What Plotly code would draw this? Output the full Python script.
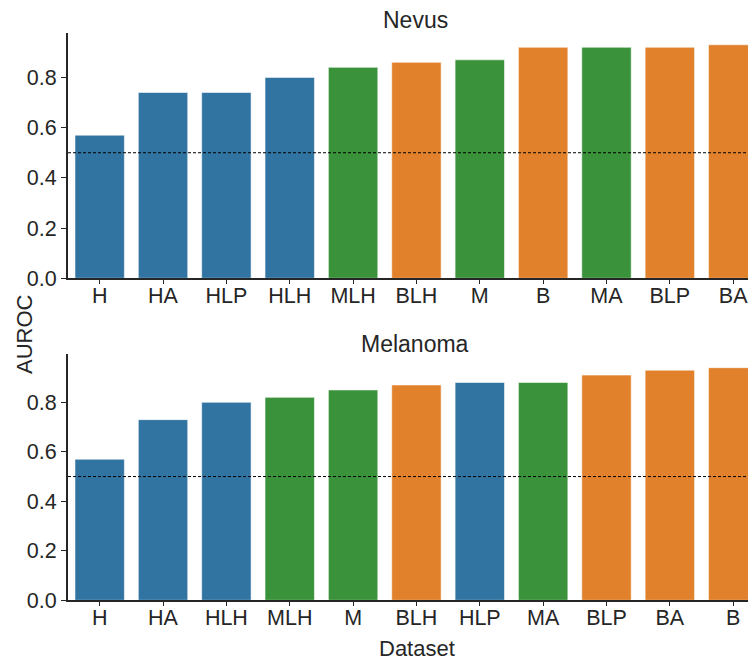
import plotly.graph_objects as go

nevus_datasets = ["H", "HA", "HLP", "HLH", "MLH", "BLH", "M", "B", "MA", "BLP", "BA"]
nevus_auroc = [0.57, 0.74, 0.74, 0.80, 0.84, 0.86, 0.87, 0.92, 0.92, 0.92, 0.93]

melanoma_datasets = ["H", "HA", "HLH", "MLH", "M", "BLH", "HLP", "MA", "BLP", "BA", "B"]
melanoma_auroc = [0.57, 0.73, 0.80, 0.82, 0.85, 0.87, 0.88, 0.88, 0.91, 0.93, 0.94]

y_ticks = [0.0, 0.2, 0.4, 0.6, 0.8]
chance_level = 0.5

group_colors = {"H": "#3274a1", "B": "#e1812c", "M": "#3a923a"}

FONT = "Liberation Sans, Arial, sans-serif"
TXT = "#262626"
OFF = 8            # page body margin
W, H = 756 - OFF, 662 - OFF
L = 68 - OFF
PW = W - L


def py(p):  # reference pixel y -> paper fraction
    return (H - (p - OFF)) / H


def px(p):  # reference pixel x -> paper fraction
    return (p - OFF - L) / PW


fig = go.Figure()

panels = [
    ("Nevus", nevus_datasets, nevus_auroc, "x", "y"),
    ("Melanoma", melanoma_datasets, melanoma_auroc, "x2", "y2"),
]
shapes = []
for name, cats, vals, xa, ya in panels:
    fig.add_trace(go.Bar(
        x=cats, y=vals, xaxis=xa, yaxis=ya, width=0.78,
        marker=dict(color=[group_colors[c[0]] for c in cats],
                    line=dict(color="rgba(255,255,255,0.55)", width=1)),
        showlegend=False, name=name,
    ))
    shapes.append(dict(type="line", xref=f"{xa} domain", yref=ya,
                       x0=0, x1=1, y0=chance_level, y1=chance_level,
                       line=dict(color="black", width=1, dash="3px,2px"),
                       layer="above"))

TICK = 21.5
common_x = dict(type="category", showline=True, linecolor=TXT, linewidth=2,
                ticks="outside", ticklen=4, tickcolor=TXT, tickwidth=1,
                showgrid=False, zeroline=False, automargin=False,
                ticklabelstandoff=-7,
                tickfont=dict(family=FONT, size=TICK, color=TXT))
common_y = dict(showline=True, linecolor=TXT, linewidth=2,
                ticks="outside", ticklen=5, tickcolor=TXT, tickwidth=1,
                showgrid=False, zeroline=False, automargin=False,
                tickvals=y_ticks, ticktext=[f"{v:.1f}" for v in y_ticks],
                tickfont=dict(family=FONT, size=TICK, color=TXT))

xr = [-0.5, 10.36]
fig.update_layout(
    width=W, height=H,
    margin=dict(l=L, r=0, t=0, b=0),
    plot_bgcolor="white", paper_bgcolor="white",
    xaxis=dict(common_x, domain=[0, 1], anchor="y", range=xr,
               categoryorder="array", categoryarray=nevus_datasets),
    yaxis=dict(common_y, domain=[py(278.3), py(32.7)], anchor="x", range=[0, 0.978]),
    xaxis2=dict(common_x, domain=[0, 1], anchor="y2", range=xr,
                categoryorder="array", categoryarray=melanoma_datasets),
    yaxis2=dict(common_y, domain=[py(600.3), py(354.3)], anchor="x2", range=[0, 0.994]),
    shapes=shapes,
    annotations=[
        dict(text="Nevus", x=px(415), y=py(20), xref="paper", yref="paper",
             xanchor="center", yanchor="middle", showarrow=False,
             font=dict(family=FONT, size=23, color=TXT)),
        dict(text="Melanoma", x=px(415), y=py(344), xref="paper", yref="paper",
             xanchor="center", yanchor="middle", showarrow=False,
             font=dict(family=FONT, size=23, color=TXT)),
        dict(text="AUROC", x=px(24), y=py(334), xref="paper", yref="paper",
             xanchor="center", yanchor="middle", showarrow=False, textangle=-90,
             font=dict(family=FONT, size=22, color=TXT)),
        dict(text="Dataset", x=px(417), y=py(648), xref="paper", yref="paper",
             xanchor="center", yanchor="middle", showarrow=False,
             font=dict(family=FONT, size=22, color=TXT)),
    ],
)

fig.write_html("out.html")
